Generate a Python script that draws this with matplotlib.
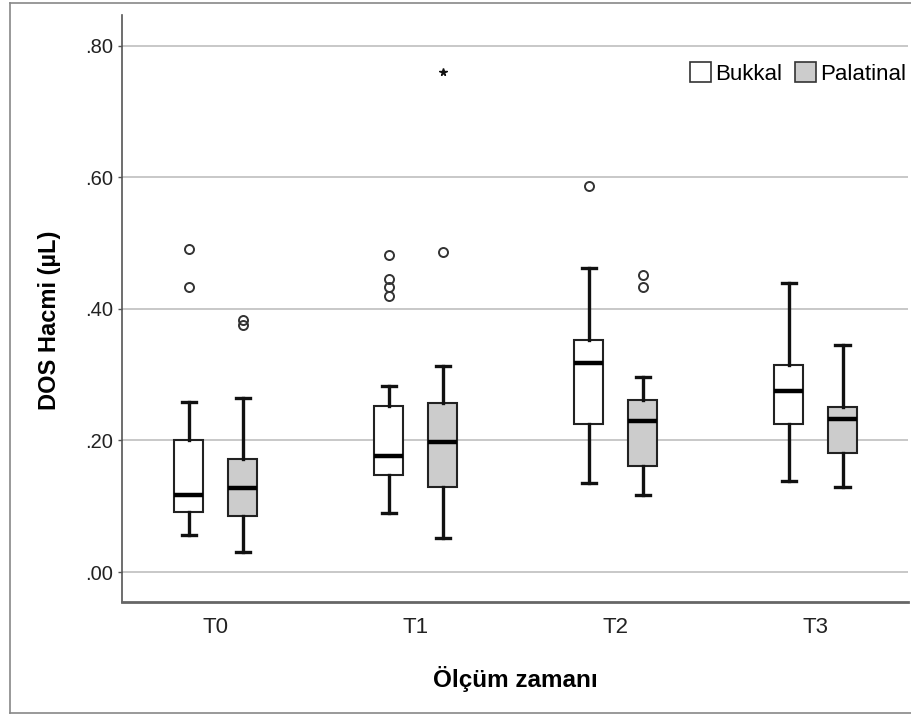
import matplotlib
matplotlib.use('Agg')
import matplotlib.pyplot as plt
from matplotlib.patches import Patch
from matplotlib.lines import Line2D

plt.rcParams['font.family'] = ['Liberation Sans', 'DejaVu Sans']

# data
groups = ['T0', 'T1', 'T2', 'T3']
series = ['Bukkal', 'Palatinal']

bukkal_whislo = [0.057, 0.089, 0.135, 0.139]
bukkal_q1 = [0.091, 0.148, 0.225, 0.225]
bukkal_med = [0.117, 0.177, 0.318, 0.276]
bukkal_q3 = [0.201, 0.252, 0.353, 0.315]
bukkal_whishi = [0.259, 0.283, 0.463, 0.440]
bukkal_outliers = [[0.491, 0.433], [0.482, 0.446, 0.433, 0.420], [0.587], []]
bukkal_extremes = [[], [], [], []]

palatinal_whislo = [0.031, 0.051, 0.117, 0.130]
palatinal_q1 = [0.085, 0.129, 0.161, 0.181]
palatinal_med = [0.127, 0.197, 0.230, 0.233]
palatinal_q3 = [0.172, 0.257, 0.262, 0.251]
palatinal_whishi = [0.264, 0.313, 0.297, 0.345]
palatinal_outliers = [[0.383, 0.376], [0.486], [0.451, 0.434], []]
palatinal_extremes = [[], [0.760], [], []]

yticks = [0.0, 0.2, 0.4, 0.6, 0.8]
fills = ['white', '#cccccc']


def make_stats(lo, q1, med, q3, hi, out):
    stats = []
    for i in range(len(lo)):
        stats.append({'whislo': lo[i], 'q1': q1[i], 'med': med[i], 'q3': q3[i],
                      'whishi': hi[i], 'fliers': out[i]})
    return stats


all_stats = [
    make_stats(bukkal_whislo, bukkal_q1, bukkal_med, bukkal_q3, bukkal_whishi, bukkal_outliers),
    make_stats(palatinal_whislo, palatinal_q1, palatinal_med, palatinal_q3, palatinal_whishi, palatinal_outliers),
]
all_extremes = [bukkal_extremes, palatinal_extremes]

fig = plt.figure(figsize=(9.11, 7.15), dpi=100)
ax = fig.add_axes([122 / 911, 113 / 715, 786 / 911, 587 / 715])

offsets = [-0.135, 0.135]
for k in range(2):
    pos = [i + offsets[k] for i in range(len(groups))]
    ax.bxp(all_stats[k], positions=pos, widths=0.145, capwidths=0.07,
           patch_artist=True, showfliers=True,
           boxprops=dict(facecolor=fills[k], edgecolor='#222222', linewidth=1.5),
           medianprops=dict(color='black', linewidth=3.2),
           whiskerprops=dict(color='#111111', linewidth=2.4),
           capprops=dict(color='#111111', linewidth=2.4),
           flierprops=dict(marker='o', markerfacecolor='none', markeredgecolor='#333333',
                           markersize=6.5, markeredgewidth=1.4, linestyle='none'),
           zorder=3)
    for i, ext in enumerate(all_extremes[k]):
        if ext:
            ax.plot([pos[i]] * len(ext), ext, linestyle='none', marker='*',
                    color='#111111', markersize=5.5, zorder=4)

ax.set_xlim(-0.4675, 3.4625)
ax.set_ylim(-0.0456, 0.847)
ax.set_xticks(range(len(groups)))
ax.set_xticklabels(groups, fontsize=16, color='#222222')
ax.set_yticks(yticks)
ax.set_yticklabels([f'{v:.2f}'.lstrip('0') for v in yticks], fontsize=14.5, color='#222222')
ax.tick_params(axis='x', length=0, pad=11)
ax.tick_params(axis='y', length=3, width=1, color='#555555', pad=3.5)

ax.yaxis.grid(True, color='#c4c4c4', linewidth=1.3)
ax.set_axisbelow(True)
for s in ['top', 'right']:
    ax.spines[s].set_visible(False)
ax.spines['left'].set_color('#555555')
ax.spines['left'].set_linewidth(1.2)
ax.spines['bottom'].set_color('#666666')
ax.spines['bottom'].set_linewidth(2)

ax.set_ylabel('DOS Hacmi (µL)', fontsize=17, fontweight='bold')
ax.yaxis.set_label_coords(-0.078, 0.48)
ax.set_xlabel('Ölçüm zamanı', fontsize=17.5, fontweight='bold', labelpad=20)

handles = [Patch(facecolor=fills[k], edgecolor='#333333', linewidth=1.2) for k in range(2)]
ax.legend(handles, series, loc='center right', bbox_to_anchor=(0.997, 0.9),
          ncol=2, frameon=False, fontsize=16, handlelength=0.96, handleheight=1.0,
          handletextpad=0.15, columnspacing=0.6, borderaxespad=0, borderpad=0)

# outer frame of the SPSS output
for xs, ys in [([10, 911], [3, 3]), ([10, 10], [3, 713]), ([10, 911], [713, 713])]:
    fig.add_artist(Line2D([x / 911 for x in xs], [1 - y / 715 for y in ys],
                          color='#888888', linewidth=1.2))

fig.savefig('out.png', dpi=100)
